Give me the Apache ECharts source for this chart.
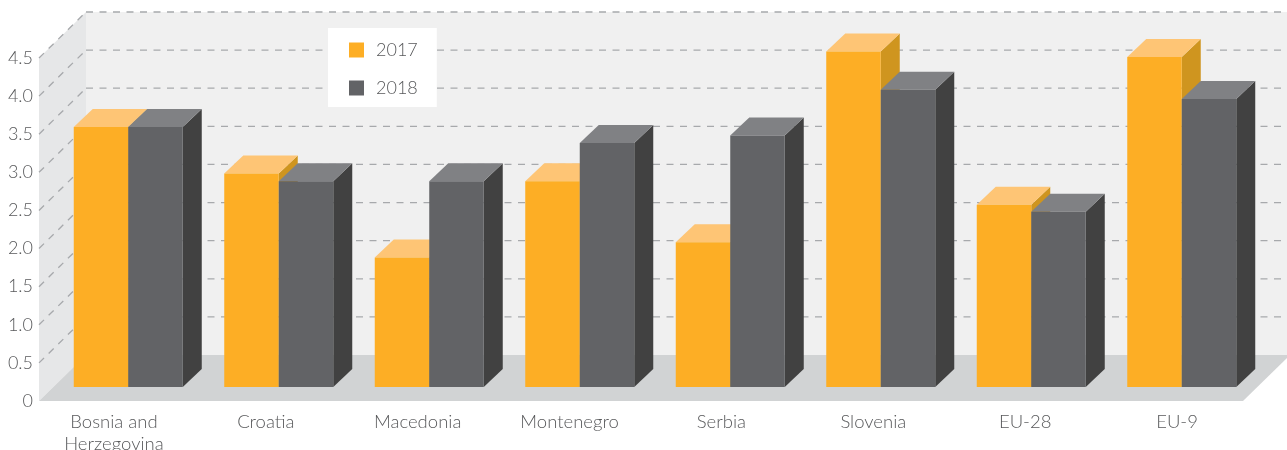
<!DOCTYPE html>
<html><head><meta charset="utf-8">
<style>html,body{margin:0;padding:0;background:#fff;overflow:hidden}#c{width:1287px;height:450px}</style>
<script src="https://cdn.jsdelivr.net/npm/echarts@6/dist/echarts.min.js"></script>
</head><body><div id="c"></div>
<script>
const categories = ['Bosnia and\nHerzegovina','Croatia','Macedonia','Montenegro','Serbia','Slovenia','EU-28','EU-9'];
const values2017 = [3.41,2.8,1.7,2.7,1.9,4.4,2.39,4.33];
const values2018 = [3.41,2.7,2.7,3.2,3.3,3.9,2.3,3.78];
const yTicks = [0.5,1,1.5,2,2.5,3,3.5,4,4.5];
const FONT = 'Lato';
const TEXT = '#58595b';
const WALL = {dx:47, dy:-46};
const BAR = {dx:14, dy:-14, depthX:19, depthY:-18, w:54.5};
const chart = echarts.init(document.getElementById('c'),null,{renderer:'canvas'});

function poly(points, fill){ return {type:'polygon', shape:{points}, style:{fill}, silent:true}; }

function barRenderer(side, colors){
  return function(params, api){
    const cat = api.value(0), val = api.value(1);
    const base = api.coord([cat,0]), top = api.coord([cat,val]);
    const x0 = side<0 ? base[0]+BAR.dx-BAR.w : base[0]+BAR.dx;
    const x1 = x0+BAR.w;
    const yb = base[1]+BAR.dy, yt = top[1]+BAR.dy;
    const dx = BAR.depthX, dy = BAR.depthY;
    return {type:'group', children:[
      poly([[x1,yt],[x1+dx,yt+dy],[x1+dx,yb+dy],[x1,yb]], colors.side),
      poly([[x0,yt],[x0+dx,yt+dy],[x1+dx,yt+dy],[x1,yt]], colors.top),
      poly([[x0,yt],[x1,yt],[x1,yb],[x0,yb]], colors.front)
    ]};
  };
}

const option = {
  animation:false,
  backgroundColor:'#fff',
  textStyle:{fontFamily:FONT},
  grid:[
    {left:39,right:44,top:58,bottom:49,containLabel:false,outerBoundsMode:'none'},
    {left:38,right:34,top:58,bottom:49,containLabel:false,outerBoundsMode:'none'}
  ],
  legend:{
    orient:'vertical', left:328, top:28,
    data:['2017','2018'],
    icon:'rect', itemWidth:15, itemHeight:15, itemGap:20,
    backgroundColor:'#fff', padding:[13,19,10,21],
    selectedMode:false,
    textStyle:{color:TEXT,fontFamily:FONT,fontWeight:300,fontSize:18,padding:[0,0,0,7]}
  },
  xAxis:[
    {type:'category', gridIndex:0, data:categories,
     axisLine:{show:false}, axisTick:{show:false}, splitLine:{show:false}, axisLabel:{show:false}},
    {type:'category', gridIndex:1, data:categories,
     axisLine:{show:false}, axisTick:{show:false}, splitLine:{show:false},
     axisLabel:{interval:0,color:TEXT,fontFamily:FONT,fontWeight:300,fontSize:18.5,lineHeight:22,margin:10}}
  ],
  yAxis:[
    {type:'value', gridIndex:0, min:0, max:4.5, interval:0.5,
     axisLine:{show:false}, axisTick:{show:false}, splitLine:{show:false},
     axisLabel:{color:TEXT,fontFamily:FONT,fontWeight:300,fontSize:18,margin:6,
       showMaxLabel:true,padding:[4,0,0,0],
       formatter:v=>v===0?'0':v.toFixed(1)}},
    {type:'value', gridIndex:1, min:0, max:4.5, interval:0.5, show:false}
  ],
  series:[
    {type:'custom', name:'walls', z:1, silent:true, clip:false,
     data:[[0,0]], encode:{x:0,y:1},
     renderItem(params,api){
       const cs = params.coordSys;
       const l=cs.x, r=cs.x+cs.width, t=cs.y, b=cs.y+cs.height;
       const d=WALL;
       return {type:'group',children:[
         poly([[l+d.dx,t+d.dy],[r+d.dx,t+d.dy],[r+d.dx,b+d.dy],[l+d.dx,b+d.dy]],'#f0f0f0'),
         poly([[l,t],[l+d.dx,t+d.dy],[l+d.dx,b+d.dy],[l,b]],'#e6e7e8'),
         poly([[l,b],[l+d.dx,b+d.dy],[r+d.dx,b+d.dy],[r,b]],'#d1d3d4')
       ]};
     }},
    {type:'custom', name:'gridlines', z:2, silent:true, clip:false,
     data:yTicks.map(v=>[0,v]), encode:{x:0,y:1},
     renderItem(params,api){
       const cs = params.coordSys;
       const y = api.coord([0,api.value(1)])[1];
       const l=cs.x, r=cs.x+cs.width, d=WALL;
       const style={stroke:'#a7a9ac',lineWidth:1.3,lineDash:[7,6.5],fill:null};
       return {type:'group',children:[
         {type:'line',shape:{x1:l,y1:y,x2:l+d.dx,y2:y+d.dy},style,silent:true},
         {type:'line',shape:{x1:l+d.dx,y1:y+d.dy,x2:r+d.dx,y2:y+d.dy},style,silent:true}
       ]};
     }},
    {type:'custom', name:'2017', z:3, clip:false, itemStyle:{color:'#fdae25'},
     data:values2017.map((v,i)=>[i,v]), encode:{x:0,y:1},
     renderItem:barRenderer(-1,{front:'#fdae25',top:'#fec575',side:'#cf951f'})},
    {type:'custom', name:'2018', z:4, clip:false, itemStyle:{color:'#626366'},
     data:values2018.map((v,i)=>[i,v]), encode:{x:0,y:1},
     renderItem:barRenderer(1,{front:'#626366',top:'#808184',side:'#414141'})}
  ]
};
chart.setOption(option);
</script></body></html>
